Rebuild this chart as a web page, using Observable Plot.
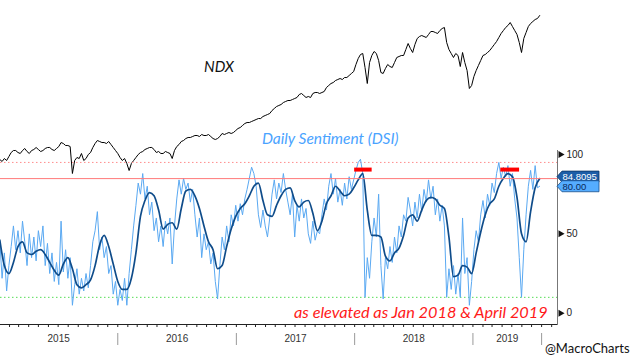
<!DOCTYPE html>
<html><head><meta charset="utf-8">
<script src="https://cdn.jsdelivr.net/npm/d3@7"></script>
<script src="https://cdn.jsdelivr.net/npm/@observablehq/plot@0.6"></script>
<style>
body{margin:0;background:#fff;}
#wrap{position:relative;width:640px;height:360px;overflow:hidden;font-family:"Liberation Sans",Arial,sans-serif;}
#wrap svg{position:absolute;left:0;top:0;}
.ann{position:absolute;white-space:nowrap;font-family:Lato,"Open Sans",sans-serif;line-height:1;}
</style></head><body>
<div id="wrap">
  <div class="ann" style="left:204px;top:59px;font-size:15px;font-style:italic;color:#111;">NDX</div>
  <div class="ann" style="left:262px;top:131px;font-size:15.5px;font-style:italic;color:#4aa3ff;">Daily Sentiment (DSI)</div>
  <div class="ann" style="left:294px;top:304px;font-size:16.3px;font-style:italic;color:#ff1a1a;">as elevated as Jan 2018 &amp; April 2019</div>
  <div class="ann" style="left:545px;top:342px;font-size:13px;color:#111;">@MacroCharts</div>
</div>
<script>
// NDX weekly closes (Fridays from 2015-01-02)
const ndxValues = [
4103,4049,4130,4076,4185,4294,4348,4348,4294,4267,4348,4403,4321,
4267,4348,4376,4430,4376,4321,4348,4403,4430,4430,4376,4348,4403,
4457,4566,4539,4485,4485,4457,3722,4076,4158,4130,4267,4076,4130,
4239,4294,4430,4539,4621,4594,4566,4566,4539,4594,4512,4430,4348,
4267,4158,4076,4130,3994,3803,3994,4076,4158,4239,4294,4321,4376,
4403,4430,4430,4376,4294,4321,4267,4267,4321,4294,4267,4130,4348,
4457,4512,4594,4621,4675,4703,4703,4730,4757,4757,4730,4784,4757,
4757,4784,4730,4675,4648,4675,4730,4812,4784,4812,4839,4812,4839,
4893,4948,4975,5030,5084,5111,5111,5139,5166,5193,5220,5220,5275,
5302,5329,5357,5438,5493,5547,5575,5602,5656,5684,5711,5711,5738,
5765,5793,5874,5902,5847,5793,5820,5793,5902,5929,5929,5902,5929,
5956,6065,6120,6174,6201,6256,6283,6310,6283,6338,6338,6392,6447,
6501,6692,6855,6964,6992,6610,6174,6746,6937,7046,6992,6801,6474,
6447,6583,6692,6637,6610,6746,6883,6910,6937,6937,7101,7264,7128,
7019,7237,7400,7455,7482,7455,7428,7509,7591,7591,7564,7537,7618,
7673,7700,7291,7101,6992,6883,6992,6937,6637,7019,6746,6528,6038,
6120,6365,6528,6665,6801,6937,6964,7019,7073,7155,7237,7319,7428,
7537,7618,7700,7755,7836,7727,7618,7510,7291,7019,7401,7564,7727,7809,7864,7918,7945,8027
];
// Daily Sentiment Index, weekly readings (from 2015-01-02)
const dsiRaw = [
45,22,38,14,30,42,55,40,52,38,58,45,30, 50,35,48,33,52,42,55,30,44,25,38,20,32,
18,58,26,40,22,35,5,18,28,12,22,14,25, 16,30,45,52,64,40,48,35,42,25,30,12,20,
5,15,8,22,5,25,40,55,68,82,75,88,72, 80,62,70,52,60,45,55,42,58,50,60,31,55,
72,84,75,85,78,82,70,78,62,48,60,35,50, 40,45,31,38,20,9,30,48,40,55,45,62,55,
68,58,69,62,72,78,85,92,88,80,62,54,65, 55,48,60,75,84,72,82,76,88,78,70,62,75,
48,68,58,72,60,66,50,44,58,46,52,50,62, 72,65,80,88,75,85,70,78,68,82,72,86,78,
84,90,95,97,88,10,35,22,45,60,48,75,30, 9,35,28,42,32,48,38,55,48,62,58,73,65,
55,70,60,75,64,78,70,84,72,80,62,72,58, 68,55,10,28,15,30,12,25,10,60,25,35,5,
20,40,52,45,62,71,60,75,68,82,76,88,95, 85,92,86,93,80,88,72,60,35,10,40,62,80,90,78,93,79,80
];
// DSI smoothed, every two weeks (from 2015-01-02)
const dsiSmooth = [
46,30,25,32,42,45,38,37,39,40, 37,32,27,24,31,35,28,18,16,18,
21,30,43,49,42,31,20,15,15,22, 38,61,71,76,74,65,53,56,57,53,
66,77,78,74,66,55,45,40,28,30, 42,53,61,66,69,74,80,82,71,62,
61,68,74,78,79,71,67,70,71,63, 52,58,69,74,80,77,74,75,79,84,
88,65,49,49,48,36,33,38,41,49, 60,62,58,65,71,73,72,68,66,48,
23,24,30,29,25,38,51,62,69,72, 80,85,88,86,73,50,45,64,79,84.8095
];
const seriesStart = "2015-01-02";
const lastSmooth = 84.8095;
const lastRaw = 80.00;
const upperBand = 95;
const lowerBand = 10;
const markerLevel = 90.5;
const markerStarts = ["2018-01-01", "2019-03-28"];
const markerEnds = ["2018-02-24", "2019-05-25"];
const yearNames = ["2015", "2016", "2017", "2018", "2019"];
const yearStarts = ["2015-01-01", "2016-01-01", "2017-01-01", "2018-01-01", "2019-01-01"];
const yearEnds = ["2016-01-01", "2017-01-01", "2018-01-01", "2019-01-01", "2019-08-01"];
const dsiTicks = [0, 50, 100];

const start = new Date(seriesStart);
const ndxData = ndxValues.map((v, i) => ({date: d3.utcDay.offset(start, 7 * i), v}));
const rawData = dsiRaw.map((v, i) => ({date: d3.utcDay.offset(start, 7 * i), v}));
const smoothData = dsiSmooth.map((v, i) => ({date: d3.utcDay.offset(start, 14 * i), v}));
const markers = markerStarts.map((s, i) => ({start: new Date(s), end: new Date(markerEnds[i]), v: markerLevel}));
const yearLabels = yearNames.map((n, i) => {
  const a = new Date(yearStarts[i]), b = new Date(yearEnds[i]);
  return {label: n, mid: new Date((+a + +b) / 2)};
});
const separators = yearEnds.map(d => new Date(d));

const xDomain = [new Date("2015-01-01"), new Date("2019-09-19")];
const xRange = [-1, 557];

const dsiPlot = Plot.plot({
  width: 640, height: 360,
  marginLeft: 0, marginRight: 83, marginTop: 150, marginBottom: 36,
  x: {type: "utc", domain: xDomain, range: xRange, label: null},
  y: {domain: [0, 100], range: [312.7, 154], label: null},
  style: {background: "transparent", fontFamily: "Liberation Sans, Arial, sans-serif", fontSize: "10px", color: "#333", overflow: "visible"},
  marks: [
    Plot.ruleY([upperBand], {stroke: "#ff8c8c", strokeDasharray: "1.5,2.5"}),
    Plot.ruleY([lowerBand], {stroke: "#55dd55", strokeDasharray: "1.5,2.5"}),
    Plot.line(rawData, {x: "date", y: "v", stroke: "#5aa9f2", strokeWidth: 1}),
    Plot.line(smoothData, {x: "date", y: "v", stroke: "#0f4c8a", strokeWidth: 1.7, curve: "monotone-x"}),
    Plot.ruleY([lastSmooth], {stroke: "#ff7a7a", strokeWidth: 1}),
    Plot.ruleY(markers, {x1: "start", x2: "end", y: "v", stroke: "#ff0000", strokeWidth: 4}),
    Plot.frame({anchor: "bottom", stroke: "#222"}),
    Plot.frame({anchor: "right", stroke: "#777"}),
    Plot.axisX({ticks: d3.utcMonth.every(1), tickSize: 3, tickFormat: () => "", stroke: "#222", label: null}),
    Plot.axisX({ticks: separators, tickSize: 12, dy: 9, tickFormat: () => "", stroke: "#999", label: null}),
    Plot.text(yearLabels, {x: "mid", text: "label", frameAnchor: "bottom", dy: 17, fontSize: 10, fill: "#333"}),
    Plot.axisY({anchor: "right", ticks: dsiTicks, tickSize: 0, tickPadding: 9, fontSize: 10, fill: "#222", label: null}),
    Plot.dot(dsiTicks, {y: d => d, frameAnchor: "right", symbol: "triangle", rotate: 90, r: 2.6, fill: "#111", dx: 3})
  ]
});

const ndxPlot = Plot.plot({
  width: 640, height: 360, margin: 0,
  x: {type: "utc", domain: xDomain, range: xRange, axis: null, label: null},
  y: {domain: [-1374, 8436], range: [360, 0], axis: null, label: null},
  style: {background: "transparent", overflow: "visible"},
  marks: [Plot.line(ndxData, {x: "date", y: "v", stroke: "#000", strokeWidth: 1})]
});

const wrap = document.getElementById("wrap");
wrap.prepend(dsiPlot);
wrap.prepend(ndxPlot);

// value boxes on the right axis
const ys = dsiPlot.scale("y");
const svg = d3.select(dsiPlot);
function valueBox(v, shift, fill, stroke, textFill, label) {
  const y = ys.apply(v) + shift;
  const x0 = 557, h = 11, w = 37;
  const g = svg.append("g");
  g.append("path")
    .attr("d", `M${x0},${y} L${x0 + 5},${y - h / 2} H${x0 + 5 + w} V${y + h / 2} H${x0 + 5} Z`)
    .attr("fill", fill).attr("stroke", stroke).attr("stroke-width", 0.8);
  g.append("text").attr("x", x0 + 5.5).attr("y", y).attr("dy", "0.35em")
    .attr("text-anchor", "start")
    .attr("fill", textFill).attr("font-size", 9.5).attr("font-family", "Liberation Sans, Arial, sans-serif")
    .text(label);
}
valueBox(lastSmooth, -1.5, "#1d5ea8", "#0c3566", "#ffffff", d3.format(".4f")(lastSmooth));
valueBox(lastRaw, 0.5, "#55adff", "#1a4f8a", "#0a2a5a", d3.format(".2f")(lastRaw));
</script>
</body></html>
